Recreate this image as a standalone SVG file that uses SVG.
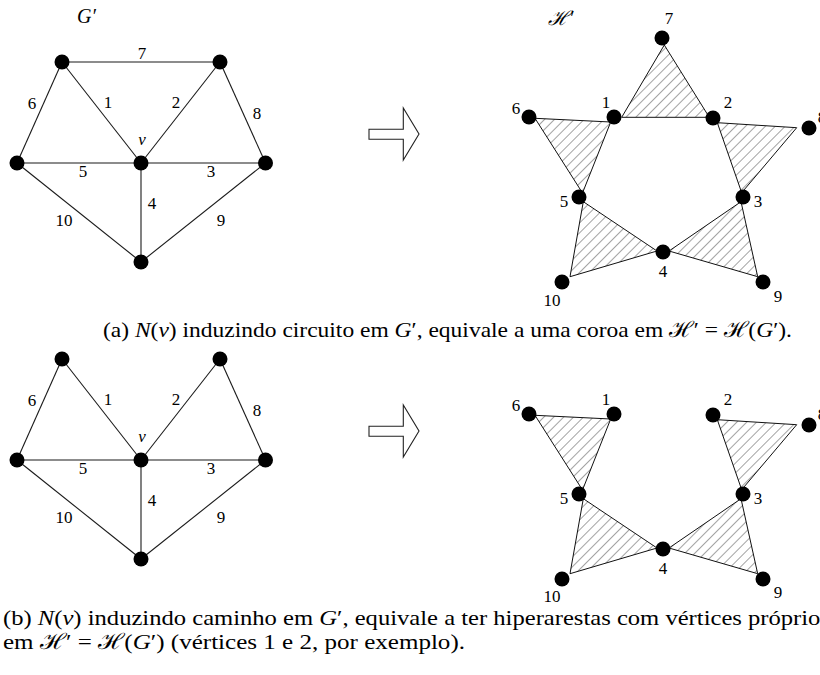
<svg xmlns="http://www.w3.org/2000/svg" width="820" height="675" viewBox="0 0 820 675" font-family="'Liberation Serif', 'Times New Roman', serif">
<style>
.edge{stroke:#1a1a1a;stroke-width:1.1;fill:none}
.node{fill:#000}
.lbl{font-family:'Liberation Serif','Times New Roman',serif;font-size:17px;text-anchor:middle;fill:#000}
.math{font-family:'Liberation Serif','Times New Roman',serif;font-style:italic;font-size:20px;fill:#000}
.hedge{fill:url(#hatch);stroke:#111;stroke-width:1;stroke-linejoin:miter}
.arrow{fill:#fff;stroke:#222;stroke-width:1.1}
.cap{font-family:'Liberation Serif','Times New Roman',serif;font-size:22px;fill:#000}
.it{font-style:italic}
</style>
<defs>
<pattern id="hatch" patternUnits="userSpaceOnUse" width="7" height="7" patternTransform="rotate(45)">
<line x1="0" y1="0" x2="0" y2="7" stroke="#333" stroke-width="0.9"/>
</pattern>
</defs>

<!-- ===== (a) graph G' ===== -->
<g id="graphA">
<text class="math" x="77" y="23">G′</text>
<g id="connectorsA">
<line class="edge" x1="62" y1="62" x2="220" y2="62"/>
<line class="edge" x1="62" y1="62" x2="17" y2="163"/>
<line class="edge" x1="62" y1="62" x2="141" y2="163"/>
<line class="edge" x1="220" y1="62" x2="141" y2="163"/>
<line class="edge" x1="220" y1="62" x2="265.5" y2="163"/>
<line class="edge" x1="17" y1="163" x2="265.5" y2="163"/>
<line class="edge" x1="141" y1="163" x2="141" y2="262"/>
<line class="edge" x1="17" y1="163" x2="141" y2="262"/>
<line class="edge" x1="265.5" y1="163" x2="141" y2="262"/>
</g>
<g class="lbl">
<text x="142" y="59">7</text>
<text x="32" y="109">6</text>
<text x="108" y="108">1</text>
<text x="176" y="108">2</text>
<text x="257" y="119">8</text>
<text x="83" y="177">5</text>
<text x="211" y="177">3</text>
<text x="152" y="209">4</text>
<text x="64" y="226">10</text>
<text x="221" y="226">9</text>
<text x="142" y="145" font-style="italic">v</text>
</g>
<g id="a-tl"><circle class="node" cx="62" cy="62" r="7.5"/></g>
<g id="a-tr"><circle class="node" cx="220" cy="62" r="7.5"/></g>
<g id="a-l"><circle class="node" cx="17" cy="163" r="7.5"/></g>
<g id="a-v"><circle class="node" cx="141" cy="163" r="7.5"/></g>
<g id="a-r"><circle class="node" cx="265.5" cy="163" r="7.5"/></g>
<g id="a-b"><circle class="node" cx="141" cy="262" r="7.5"/></g>
</g>

<g id="arrowA"><path class="arrow" d="M369,129.3 H403.3 V108 L419,134 L403.3,160 V139.3 H369 Z"/></g>

<!-- ===== (a) hypergraph H' ===== -->
<g id="hyperA">
<text class="math" x="548" y="25">ℋ′</text>
<g id="hyperedgesA">
<polygon class="hedge" points="664.3,45 621.7,117.3 709.3,117.3"/>
<polygon class="hedge" points="535,118.3 610.7,122 582.5,193"/>
<polygon class="hedge" points="717.3,122.7 796.7,127.7 741.7,192.7"/>
<polygon class="hedge" points="583.3,201.7 657,251 570,276.7"/>
<polygon class="hedge" points="741,201.7 669,251 757.7,276.7"/>
</g>
<g id="ha-7"><circle class="node" cx="662" cy="38" r="7.5"/><text class="lbl" x="669" y="24">7</text></g>
<g id="ha-1"><circle class="node" cx="614" cy="117" r="7.5"/><text class="lbl" x="606" y="108">1</text></g>
<g id="ha-2"><circle class="node" cx="713" cy="118" r="7.5"/><text class="lbl" x="728" y="108">2</text></g>
<g id="ha-6"><circle class="node" cx="529" cy="117" r="7.5"/><text class="lbl" x="516" y="114">6</text></g>
<g id="ha-8"><circle class="node" cx="809" cy="128" r="7.5"/><text class="lbl" x="822" y="123">8</text></g>
<g id="ha-5"><circle class="node" cx="579" cy="197" r="7.5"/><text class="lbl" x="564" y="207">5</text></g>
<g id="ha-3"><circle class="node" cx="743" cy="197" r="7.5"/><text class="lbl" x="758" y="207">3</text></g>
<g id="ha-4"><circle class="node" cx="663" cy="252" r="7.5"/><text class="lbl" x="663" y="277">4</text></g>
<g id="ha-10"><circle class="node" cx="562" cy="282" r="7.5"/><text class="lbl" x="552" y="306">10</text></g>
<g id="ha-9"><circle class="node" cx="763" cy="282" r="7.5"/><text class="lbl" x="778" y="302">9</text></g>
</g>

<text class="cap" x="103" y="337" textLength="689" lengthAdjust="spacingAndGlyphs">(a) <tspan class="it">N</tspan>(<tspan class="it">v</tspan>) induzindo circuito em <tspan class="it">G</tspan>′, equivale a uma coroa em ℋ′ = ℋ(<tspan class="it">G</tspan>′).</text>

<!-- ===== (b) graph ===== -->
<g id="graphB">
<g id="connectorsB">
<line class="edge" x1="62" y1="359" x2="17" y2="460"/>
<line class="edge" x1="62" y1="359" x2="141" y2="460"/>
<line class="edge" x1="220" y1="359" x2="141" y2="460"/>
<line class="edge" x1="220" y1="359" x2="265.5" y2="460"/>
<line class="edge" x1="17" y1="460" x2="265.5" y2="460"/>
<line class="edge" x1="141" y1="460" x2="141" y2="559"/>
<line class="edge" x1="17" y1="460" x2="141" y2="559"/>
<line class="edge" x1="265.5" y1="460" x2="141" y2="559"/>
</g>
<g class="lbl">
<text x="32" y="406">6</text>
<text x="108" y="405">1</text>
<text x="176" y="405">2</text>
<text x="257" y="416">8</text>
<text x="83" y="474">5</text>
<text x="211" y="474">3</text>
<text x="152" y="506">4</text>
<text x="64" y="523">10</text>
<text x="221" y="523">9</text>
<text x="142" y="442" font-style="italic">v</text>
</g>
<g id="b-tl"><circle class="node" cx="62" cy="359" r="7.5"/></g>
<g id="b-tr"><circle class="node" cx="220" cy="359" r="7.5"/></g>
<g id="b-l"><circle class="node" cx="17" cy="460" r="7.5"/></g>
<g id="b-v"><circle class="node" cx="141" cy="460" r="7.5"/></g>
<g id="b-r"><circle class="node" cx="265.5" cy="460" r="7.5"/></g>
<g id="b-b"><circle class="node" cx="141" cy="559" r="7.5"/></g>
</g>

<g id="arrowB"><path class="arrow" d="M369,426.3 H403.3 V405 L419,431 L403.3,457 V436.3 H369 Z"/></g>

<!-- ===== (b) hypergraph ===== -->
<g id="hyperB">
<g id="hyperedgesB">
<polygon class="hedge" points="535,415.3 610.7,419 582.5,490"/>
<polygon class="hedge" points="717.3,419.7 796.7,424.7 741.7,489.7"/>
<polygon class="hedge" points="583.3,498.7 657,548 570,573.7"/>
<polygon class="hedge" points="741,498.7 669,548 757.7,573.7"/>
</g>
<g id="hb-1"><circle class="node" cx="614" cy="414" r="7.5"/><text class="lbl" x="606" y="405">1</text></g>
<g id="hb-2"><circle class="node" cx="713" cy="415" r="7.5"/><text class="lbl" x="728" y="405">2</text></g>
<g id="hb-6"><circle class="node" cx="529" cy="414" r="7.5"/><text class="lbl" x="516" y="411">6</text></g>
<g id="hb-8"><circle class="node" cx="809" cy="425" r="7.5"/><text class="lbl" x="822" y="420">8</text></g>
<g id="hb-5"><circle class="node" cx="579" cy="494" r="7.5"/><text class="lbl" x="564" y="504">5</text></g>
<g id="hb-3"><circle class="node" cx="743" cy="494" r="7.5"/><text class="lbl" x="758" y="504">3</text></g>
<g id="hb-4"><circle class="node" cx="663" cy="549" r="7.5"/><text class="lbl" x="663" y="574">4</text></g>
<g id="hb-10"><circle class="node" cx="562" cy="579" r="7.5"/><text class="lbl" x="552" y="602">10</text></g>
<g id="hb-9"><circle class="node" cx="763" cy="579" r="7.5"/><text class="lbl" x="778" y="598">9</text></g>
</g>

<text class="cap" x="3" y="625" textLength="827" lengthAdjust="spacingAndGlyphs">(b) <tspan class="it">N</tspan>(<tspan class="it">v</tspan>) induzindo caminho em <tspan class="it">G</tspan>′, equivale a ter hiperarestas com vértices próprios</text>
<text class="cap" x="3" y="649" textLength="462" lengthAdjust="spacingAndGlyphs">em ℋ′ = ℋ(<tspan class="it">G</tspan>′) (vértices 1 e 2, por exemplo).</text>
</svg>
